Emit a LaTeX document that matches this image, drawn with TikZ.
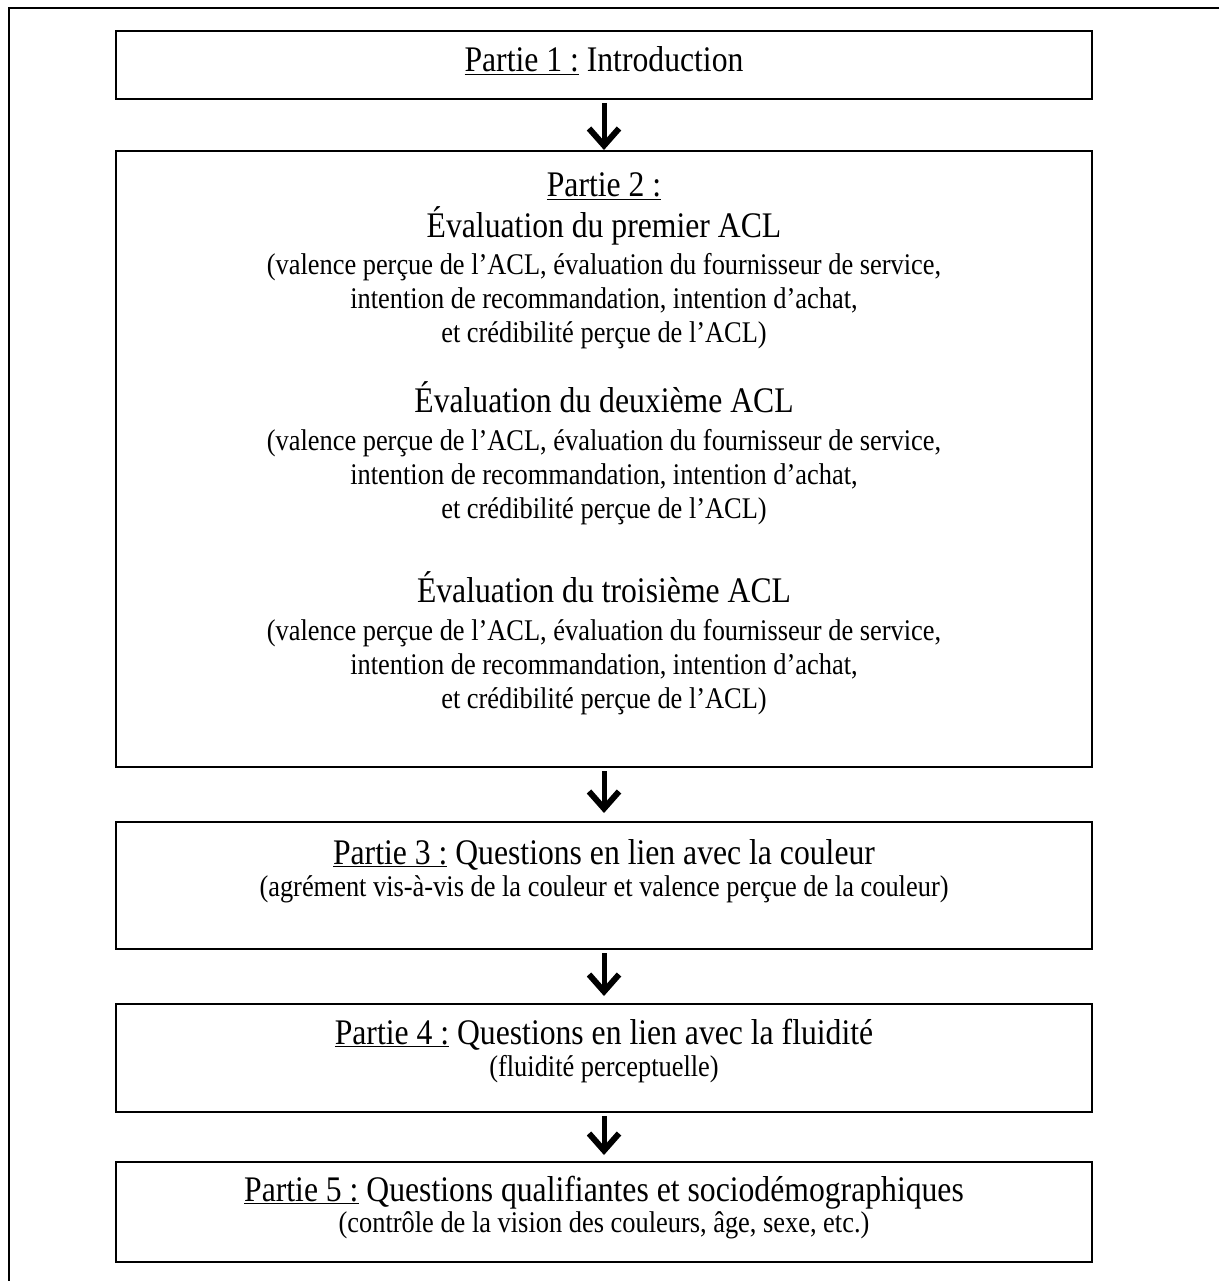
\documentclass[tikz,border=0pt]{standalone}
\usepackage{fontspec}
\setmainfont[FakeStretch=0.88]{Liberation Serif}
\usetikzlibrary{arrows.meta}
\begin{document}
\begin{tikzpicture}[x=1pt,y=-1pt,
  box/.style={draw, line width=2pt, minimum width=976pt, inner sep=0pt, anchor=north},
  big/.style={font=\fontsize{36}{42}\selectfont, anchor=base, inner sep=0pt},
  small/.style={font=\fontsize{30}{36}\selectfont, anchor=base, inner sep=0pt},
  conn/.style={line width=5pt, -{Straight Barb[length=17pt,width=30pt,line width=6pt]}, shorten <=3pt}
]
\useasboundingbox (0,0) rectangle (1219,1281);
\draw[line width=2pt] (1219,8) -- (9,8) -- (9,1281);
% boxes
\node[box, minimum height=68pt] (b1) at (604,30) {};
\node[box, minimum height=616pt] (b2) at (604,150) {};
\node[box, minimum height=127pt] (b3) at (604,821) {};
\node[box, minimum height=108pt] (b4) at (604,1003) {};
\node[box, minimum height=100pt] (b5) at (604,1161) {};
% texts
\node[big] (t1) at (604,72) {\underline{Partie 1~:} Introduction};
\node[big] (t2) at (604,197) {\underline{Partie 2~:}};
\node[big] (t2a) at (604,237) {Évaluation du premier ACL};
\node[small] (t2a1) at (604,274) {(valence perçue de l’ACL, évaluation du fournisseur de service,};
\node[small] (t2a2) at (604,308) {intention de recommandation, intention d’achat,};
\node[small] (t2a3) at (604,342) {et crédibilité perçue de l’ACL)};
\node[big] (t2b) at (604,412) {Évaluation du deuxième ACL};
\node[small] (t2b1) at (604,450) {(valence perçue de l’ACL, évaluation du fournisseur de service,};
\node[small] (t2b2) at (604,484) {intention de recommandation, intention d’achat,};
\node[small] (t2b3) at (604,518) {et crédibilité perçue de l’ACL)};
\node[big] (t2c) at (604,602) {Évaluation du troisième ACL};
\node[small] (t2c1) at (604,640) {(valence perçue de l’ACL, évaluation du fournisseur de service,};
\node[small] (t2c2) at (604,674) {intention de recommandation, intention d’achat,};
\node[small] (t2c3) at (604,708) {et crédibilité perçue de l’ACL)};
\node[big] (t3) at (604,864) {\underline{Partie 3~:} Questions en lien avec la couleur};
\node[small] (t3a) at (604,896) {(agrément vis-à-vis de la couleur et valence perçue de la couleur)};
\node[big] (t4) at (604,1044) {\underline{Partie 4~:} Questions en lien avec la fluidité};
\node[small] (t4a) at (604,1076) {(fluidité perceptuelle)};
\node[big] (t5) at (604,1201) {\underline{Partie 5~:} Questions qualifiantes et sociodémographiques};
\node[small] (t5a) at (604,1232) {(contrôle de la vision des couleurs, âge, sexe, etc.)};
% connectors
\draw[conn] (b1.south) -- (b2.north);
\draw[conn, shorten >=8pt] (b2.south) -- (b3.north);
\draw[conn, shorten >=7pt] (b3.south) -- (b4.north);
\draw[conn, shorten >=6pt] (b4.south) -- (b5.north);
\end{tikzpicture}
\end{document}
